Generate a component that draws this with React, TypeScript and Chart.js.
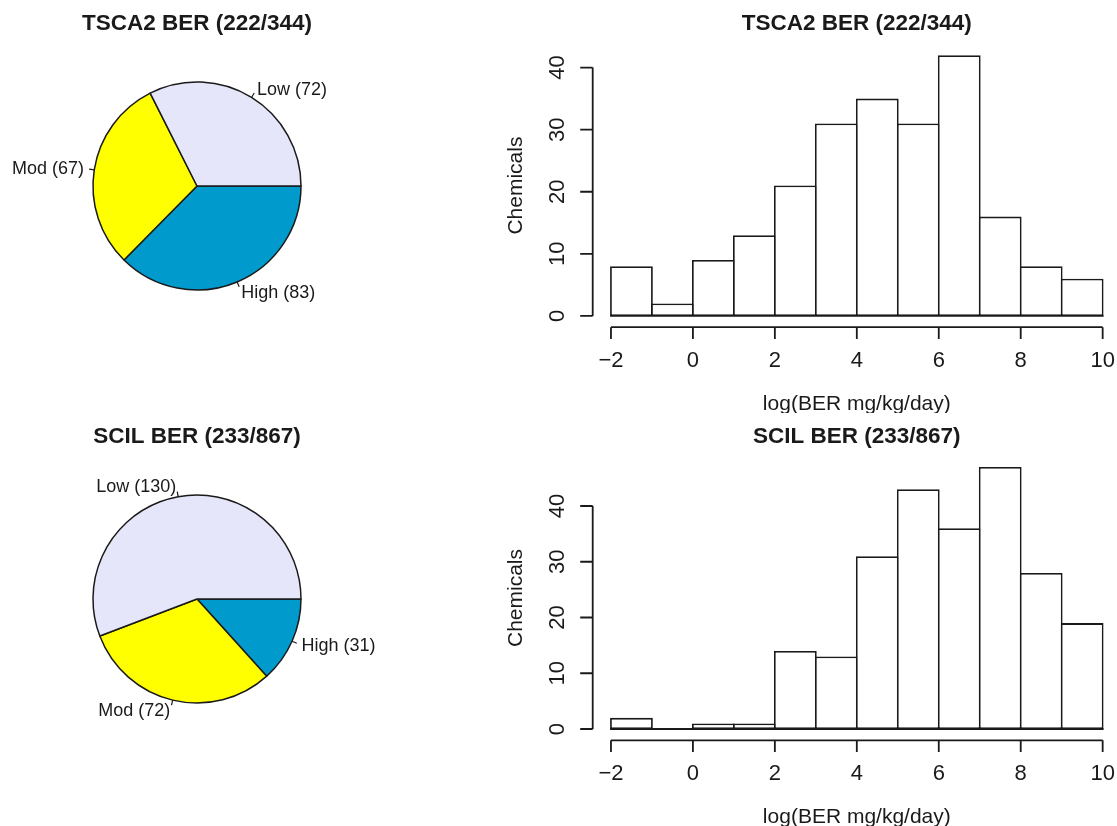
import React, { useEffect, useRef } from 'react';
import { Chart, registerables } from 'chart.js';

Chart.register(...registerables);

// ---------- data ----------
const pieCategories = ['Low', 'Mod', 'High'];
const tscaPieValues = [72, 67, 83];
const scilPieValues = [130, 72, 31];

const binEdges = [-2, -1, 0, 1, 2, 3, 4, 5, 6, 7, 8, 9, 10];
const tscaCounts = [8, 2, 9, 13, 21, 31, 35, 31, 42, 16, 8, 6];
const scilCounts = [2, 0, 1, 1, 14, 13, 31, 43, 36, 47, 28, 19];

const xTickValues = [-2, 0, 2, 4, 6, 8, 10];
const yTickValues = [0, 10, 20, 30, 40];

const tscaTitle = 'TSCA2 BER (222/344)';
const scilTitle = 'SCIL BER (233/867)';
const xAxisTitle = 'log(BER mg/kg/day)';
const yAxisTitle = 'Chemicals';

// ---------- styles ----------
const FONT = '"Liberation Sans", Arial, Helvetica, sans-serif';
const INK = '#1a1a1a';
const LW = 1.8;
const pieColors: Record<string, string> = { Low: '#E6E6FA', Mod: '#FFFF00', High: '#009ACD' };

const fmtTick = (v: number) => (v < 0 ? '\u2212' + Math.abs(v) : String(v));

// ---------- pie ----------
function PiePanel({ title, values, top }: { title: string; values: number[]; top: number }) {
  const ref = useRef<HTMLCanvasElement>(null);
  useEffect(() => {
    // R draws counter-clockwise from 3 o'clock; Chart.js draws clockwise -> reverse order
    const labels = [...pieCategories].reverse();
    const data = [...values].reverse();
    const colors = labels.map((l) => pieColors[l]);
    const labelPlugin = {
      id: 'rPieLabels',
      afterDraw(chart: any) {
        const ctx = chart.ctx as CanvasRenderingContext2D;
        const meta = chart.getDatasetMeta(0);
        ctx.save();
        ctx.strokeStyle = INK;
        ctx.lineWidth = 1.2;
        ctx.fillStyle = INK;
        ctx.font = `18px ${FONT}`;
        ctx.textBaseline = 'middle';
        meta.data.forEach((arc: any, i: number) => {
          const p = arc.getProps(['x', 'y', 'startAngle', 'endAngle', 'outerRadius'], true);
          const a = (p.startAngle + p.endAngle) / 2;
          const c = Math.cos(a);
          const s = Math.sin(a);
          const r = p.outerRadius;
          ctx.beginPath();
          ctx.moveTo(p.x + r * c, p.y + r * s);
          ctx.lineTo(p.x + 1.05 * r * c, p.y + 1.05 * r * s);
          ctx.stroke();
          ctx.textAlign = c < 0 ? 'right' : 'left';
          ctx.fillText(`${labels[i]} (${data[i]})`, p.x + 1.1 * r * c, p.y + 1.1 * r * s + 1);
        });
        ctx.font = `bold 22.5px ${FONT}`;
        ctx.textAlign = 'center';
        ctx.fillText(title, chart.width / 2, 24);
        ctx.restore();
      },
    };
    const chart = new Chart(ref.current as HTMLCanvasElement, {
      type: 'pie',
      data: {
        labels,
        datasets: [
          {
            data,
            backgroundColor: colors,
            borderColor: INK,
            borderWidth: 1.5,
            borderAlign: 'center',
          } as any,
        ],
      },
      options: {
        animation: false,
        responsive: false,
        events: [],
        rotation: 90,
        radius: 104,
        layout: { padding: 0 },
        plugins: { legend: { display: false }, tooltip: { enabled: false }, title: { display: false } },
      } as any,
      plugins: [labelPlugin],
    });
    return () => chart.destroy();
  }, []);
  return (
    <canvas
      ref={ref}
      width={394}
      height={372}
      style={{ position: 'absolute', left: 0, top, width: 394, height: 372 }}
    />
  );
}

// ---------- histogram ----------
function HistPanel({
  title,
  counts,
  top,
  yMin,
  yMax,
  padTop,
  padBottom,
}: {
  title: string;
  counts: number[];
  top: number;
  yMin: number;
  yMax: number;
  padTop: number;
  padBottom: number;
}) {
  const ref = useRef<HTMLCanvasElement>(null);
  useEffect(() => {
    const axesPlugin = {
      id: 'rAxes',
      afterDraw(chart: any) {
        const ctx = chart.ctx as CanvasRenderingContext2D;
        const { chartArea } = chart;
        const xs = chart.scales.x;
        const ys = chart.scales.y;
        ctx.save();
        ctx.strokeStyle = INK;
        ctx.fillStyle = INK;
        ctx.lineWidth = LW;
        // baseline of the histogram rectangles
        const y0 = ys.getPixelForValue(0);
        ctx.beginPath();
        ctx.moveTo(xs.getPixelForValue(binEdges[0]) - LW / 2, y0);
        ctx.lineTo(xs.getPixelForValue(binEdges[binEdges.length - 1]) + LW / 2, y0);
        ctx.stroke();

        // y axis
        const ax = chartArea.left + 1.4;
        ctx.beginPath();
        ctx.moveTo(ax, ys.getPixelForValue(yTickValues[0]));
        ctx.lineTo(ax, ys.getPixelForValue(yTickValues[yTickValues.length - 1]));
        yTickValues.forEach((v) => {
          const py = ys.getPixelForValue(v);
          ctx.moveTo(ax, py);
          ctx.lineTo(ax - 12.5, py);
        });
        ctx.stroke();
        ctx.font = `22px ${FONT}`;
        ctx.textAlign = 'center';
        ctx.textBaseline = 'middle';
        yTickValues.forEach((v) => {
          const py = ys.getPixelForValue(v);
          ctx.save();
          ctx.translate(ax - 36, py);
          ctx.rotate(-Math.PI / 2);
          ctx.fillText(fmtTick(v), 0, 1);
          ctx.restore();
        });

        // x axis
        const ay = chartArea.bottom + 0.8;
        ctx.beginPath();
        ctx.moveTo(xs.getPixelForValue(xTickValues[0]), ay);
        ctx.lineTo(xs.getPixelForValue(xTickValues[xTickValues.length - 1]), ay);
        xTickValues.forEach((v) => {
          const px = xs.getPixelForValue(v);
          ctx.moveTo(px, ay);
          ctx.lineTo(px, ay + 11.8);
        });
        ctx.stroke();
        xTickValues.forEach((v) => {
          ctx.fillText(fmtTick(v), xs.getPixelForValue(v), ay + 34);
        });

        // axis titles (centred on the full R plot region)
        const midX = (xs.getPixelForValue(-2.48) + xs.getPixelForValue(10.48)) / 2;
        ctx.font = `21px ${FONT}`;
        ctx.fillText(xAxisTitle, midX, ay + 77);
        ctx.save();
        ctx.translate(chartArea.left - 76, (chartArea.top + chartArea.bottom) / 2);
        ctx.rotate(-Math.PI / 2);
        ctx.fillText(yAxisTitle, 0, 1);
        ctx.restore();

        // main title
        ctx.font = `bold 22.5px ${FONT}`;
        ctx.fillText(title, midX, 24);
        ctx.restore();
      },
    };

    const points = counts.map((c, i) => ({ x: (binEdges[i] + binEdges[i + 1]) / 2, y: c }));
    const chart = new Chart(ref.current as HTMLCanvasElement, {
      type: 'bar',
      data: {
        datasets: [
          {
            data: points,
            backgroundColor: '#ffffff',
            borderColor: INK,
            borderWidth: LW,
            borderSkipped: false,
            inflateAmount: 0,
            barPercentage: 1.044,
            categoryPercentage: 1,
          } as any,
        ],
      },
      options: {
        animation: false,
        responsive: false,
        events: [],
        layout: { padding: { left: 91.3, right: 0, top: padTop, bottom: padBottom } },
        scales: {
          x: {
            type: 'linear',
            offset: false,
            grid: { offset: false },
            min: -2.48,
            max: 10.35,
            display: false,
            afterBuildTicks: (scale: any) => {
              scale.ticks = binEdges.map((v) => ({ value: v }));
            },
          },
          y: { type: 'linear', min: yMin, max: yMax, display: false },
        },
        plugins: { legend: { display: false }, tooltip: { enabled: false }, title: { display: false } },
      } as any,
      plugins: [axesPlugin],
    });
    return () => chart.destroy();
  }, []);
  return (
    <canvas
      ref={ref}
      width={617}
      height={413}
      style={{ position: 'absolute', left: 500, top, width: 617, height: 413 }}
    />
  );
}

export default function App() {
  return (
    <div
      style={{
        position: 'absolute',
        left: 0,
        top: 0,
        width: 1117,
        height: 826,
        overflow: 'hidden',
        background: '#ffffff',
      }}
    >
      <PiePanel title={tscaTitle} values={tscaPieValues} top={0} />
      <PiePanel title={scilTitle} values={scilPieValues} top={413} />
      <HistPanel title={tscaTitle} counts={tscaCounts} top={0} yMin={-1.68} yMax={43.68} padTop={44.7} padBottom={86.6} />
      <HistPanel title={scilTitle} counts={scilCounts} top={413} yMin={-1.88} yMax={48.88} padTop={43.5} padBottom={86.5} />
    </div>
  );
}
